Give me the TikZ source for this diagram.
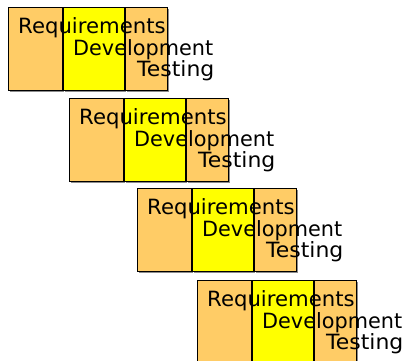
\documentclass[tikz,border=0pt]{standalone}
\usepackage{fontspec}
\setmainfont{DejaVu Sans}
\usetikzlibrary{shadows}
\definecolor{boxorange}{HTML}{FFCC66}
\definecolor{boxyellow}{HTML}{FFFF00}
\tikzset{
  phase/.style={draw=black, line width=0.8pt, anchor=north west, minimum height=83pt,
    inner sep=0pt, outer sep=0pt,
    drop shadow={shadow xshift=1.5pt, shadow yshift=-1.5pt, fill=gray!90, opacity=1}},
  reqbox/.style={phase, fill=boxorange, minimum width=54pt},
  devbox/.style={phase, fill=boxyellow, minimum width=61pt},
  testbox/.style={phase, fill=boxorange, minimum width=42pt},
  phasetext/.style={anchor=base west, inner sep=0pt, font=\fontsize{21}{25}\selectfont}
}
\begin{document}
\begin{tikzpicture}[x=1pt, y=-1pt]
\useasboundingbox (0,0) rectangle (412,360);
\clip (0,0) rectangle (412,360);
\foreach \x/\y/\i in {8/7/1, 69/98/2, 137/188/3, 197/280/4} {
  \node[reqbox] (r\i) at (\x,\y) {};
  \node[devbox] (d\i) at ([xshift=1pt]r\i.north east) {};
  \node[testbox] (t\i) at ([xshift=1pt]d\i.north east) {};
  \node[phasetext] (rq\i) at (\x+10,\y+26) {\scalebox{1.01}[1]{Requirements}};
  \node[phasetext] (dv\i) at (\x+65,\y+48) {\scalebox{0.99}[1]{Development}};
  \node[phasetext] (ts\i) at (\x+129,\y+69) {\scalebox{1.045}[1]{Testing}};
}
\end{tikzpicture}
\end{document}
